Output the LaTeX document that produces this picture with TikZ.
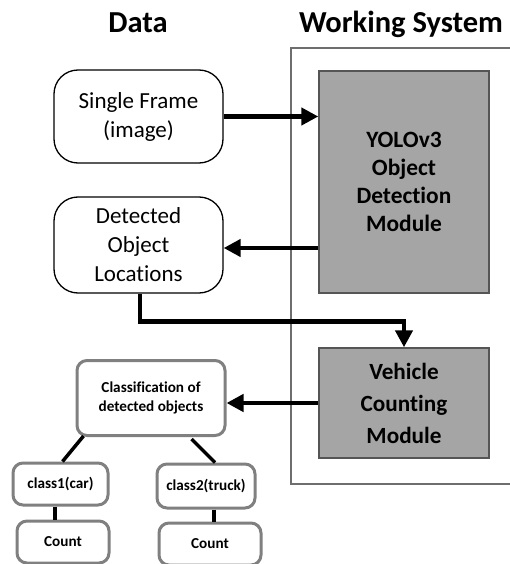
\documentclass[tikz,border=0pt]{standalone}
\usepackage{fontspec}
\setmainfont{Carlito}[Ligatures=NoCommon]
\usetikzlibrary{arrows.meta,calc}

\definecolor{modfill}{HTML}{A5A5A5}
\definecolor{modline}{HTML}{555555}
\definecolor{frameline}{HTML}{6E6E6E}
\definecolor{classline}{HTML}{808080}

\tikzset{
  title/.style={font=\fontsize{30.5}{34}\selectfont\bfseries},
  databox/.style={draw=black, line width=1.3pt, rounded corners=24pt, fill=white,
    align=center, inner sep=0pt,
    font=\fontsize{23}{29}\selectfont},
  module/.style={draw=modline, line width=1.4pt, fill=modfill, align=center,
    inner sep=0pt, font=\fontsize{23.4}{28}\selectfont\bfseries},
  classbox/.style={draw=classline, line width=3pt, rounded corners=10pt, fill=white,
    align=center, inner sep=0pt, font=\fontsize{15.2}{19}\selectfont\bfseries},
  flow/.style={line width=4.5pt, -{Triangle[length=17pt,width=17pt]}},
  link/.style={line width=3.5pt},
  frame/.style={draw=frameline, line width=1.4pt}
}

\begin{document}
\begin{tikzpicture}[x=1pt, y=-1pt]
  \useasboundingbox (0,0) rectangle (509,564);

  % column headings
  \node[title] (hdata) at (138,23) {Data};
  \node[title] (hsys) at (401,24) {Working System};

  % working system frame (open on the right)
  \draw[frame] (515,48) -- (291,48) -- (291,484) -- (515,484);

  % data side
  \node[databox, minimum width=169pt, minimum height=93pt] (single) at (138.5,116.5)
    {Single Frame\\(image)};
  \node[databox, minimum width=169pt, minimum height=96pt] (detected) at (138.5,245)
    {Detected\\Object\\Locations};

  % modules
  \node[module, minimum width=170pt, minimum height=222pt] (yolo) at (404,182)
    {YOLOv3\\Object\\Detection\\Module};
  \node[module, minimum width=170pt, minimum height=110pt,
        font=\fontsize{23.2}{32}\selectfont\bfseries] (vehicle) at (404,403)
    {Vehicle\\Counting\\Module};

  % classification tree
  \node[classbox, minimum width=148pt, minimum height=75pt] (classif) at (151,398)
    {Classification of\\detected objects};
  \node[classbox, minimum width=95pt, minimum height=42pt] (car) at (60.5,484)
    {class1(car)};
  \node[classbox, minimum width=98pt, minimum height=44pt] (truck) at (206,486)
    {class2(truck)};
  \node[classbox, minimum width=92pt, minimum height=42pt] (countcar) at (63,542)
    {Count};
  \node[classbox, minimum width=102pt, minimum height=42pt] (counttruck) at (210,544)
    {Count};

  % flow arrows
  \draw[flow] (single.east) -- (single.east -| yolo.west);
  \draw[flow] ($(yolo.west)+(0,66)$) -- ($(detected.east)+(0,3)$);
  \draw[flow] ($(detected.south)+(1.5,0)$) -- ($(detected.south)+(1.5,28)$)
    -| (vehicle.north);
  \draw[flow] (vehicle.west) -- (vehicle.west -| classif.east);

  % tree links
  \draw[link] ($(classif.south west)+(8,-1)$) -- ($(car.north)+(2,0)$);
  \draw[link] ($(classif.south east)+(-35,2)$) -- ($(truck.north)+(9,0)$);
  \draw[link] (car.south -| 55,0) -- (countcar.north -| 55,0);
  \draw[link] (truck.south -| 214,0) -- (counttruck.north -| 214,0);
\end{tikzpicture}
\end{document}
